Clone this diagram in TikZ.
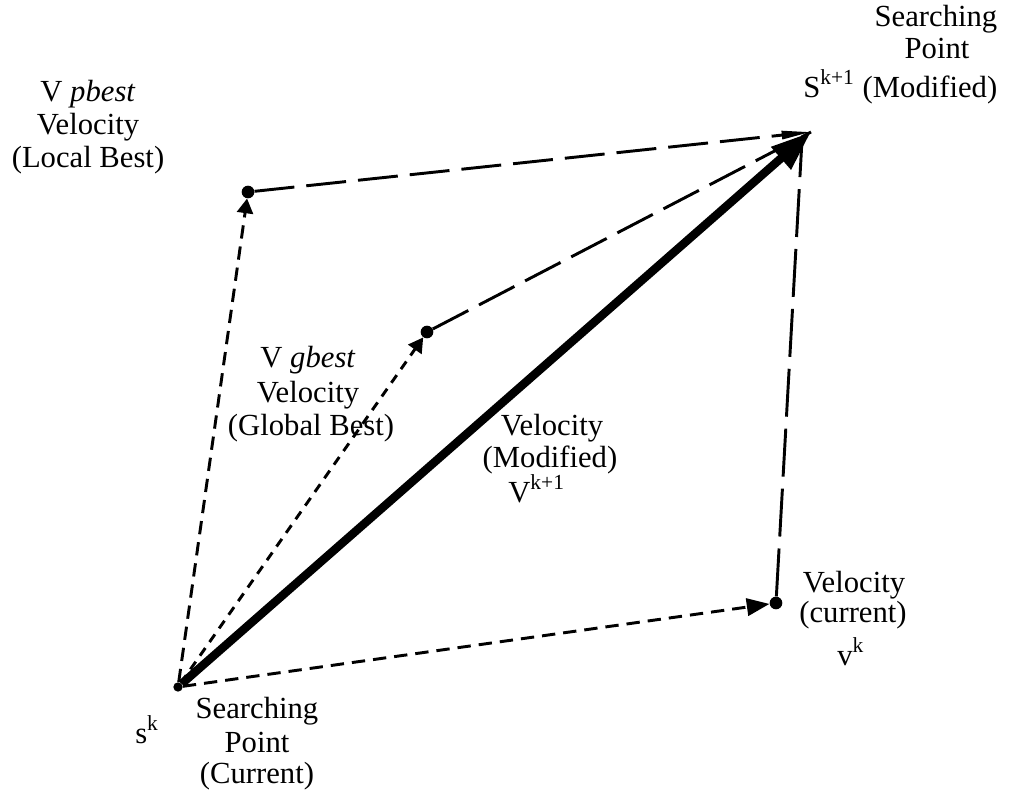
\documentclass[tikz,border=0pt]{standalone}
\usepackage{fontspec}
\setmainfont{Liberation Serif}
\usetikzlibrary{arrows.meta}
\begin{document}
\begin{tikzpicture}[x=0.75pt,y=-0.75pt,
  lbl/.style={inner sep=0pt, anchor=base, font=\fontsize{23}{25}\selectfont},
  lblw/.style={lbl, anchor=base west},
  dot/.style={circle, fill=black, inner sep=0pt, minimum size=9.5pt},
  smalldot/.style={circle, fill=black, inner sep=0pt, minimum size=7pt},
  vec/.style={line width=2.2pt},
  shortdash/.style={vec, dash pattern=on 10pt off 6pt},
  tinydash/.style={vec, dash pattern=on 7pt off 5.5pt},
  longdash/.style={vec, dash pattern=on 30pt off 9pt},
  headsmall/.style={-{Triangle[length=11pt,width=12pt]}},
  headvk/.style={-{Triangle[length=17pt,width=13pt]}},
  headthin/.style={-{Triangle[length=22pt,width=6pt]}},
  headbig/.style={-{Triangle[length=30pt,width=21pt]}}
]
\useasboundingbox (0,0) rectangle (1011,794);

% points
\node[smalldot] (O) at (178,687) {};
\node[dot] (pb) at (248,192) {};
\node[dot] (gb) at (427,332) {};
\node[dot] (vk) at (776,603) {};
\coordinate (S) at (811,132);
\coordinate (S2) at (802,140);

% connectors from current point
\draw[shortdash, headsmall] (O) -- (pb);
\draw[tinydash, headsmall] (O) -- (gb);
\draw[shortdash, headvk] (O) -- (vk);

% connectors to modified point
\draw[longdash, headthin] (pb) -- (S);
\draw[longdash] (gb) -- (S);
\draw[longdash, dash pattern=on 36pt off 9pt] (vk) -- (S2);

% resulting velocity
\draw[line width=6.3pt, headbig] (O) -- (S);

% labels: modified searching point
\node[lbl] (t1) at (936,26) {Searching};
\node[lbl] (t2) at (937,58) {Point};
\node[lbl] (t3) at (930,97) {(Modified)};
\node[lblw] (t4) at (803,97) {S\textsuperscript{k+1}};

% pbest
\node[lbl] (p1) at (88,101) {V \textit{pbest}};
\node[lbl] (p2) at (88,134) {Velocity};
\node[lbl] (p3) at (88,167) {(Local Best)};

% gbest
\node[lbl] (g1) at (308,367) {V \textit{gbest}};
\node[lbl] (g2) at (308,402) {Velocity};
\node[lbl] (g3) at (311,435) {(Global Best)};

% modified velocity
\node[lbl] (m1) at (552,435) {Velocity};
\node[lbl] (m2) at (550,467) {(Modified)};
\node[lblw] (m3) at (508,502) {V\textsuperscript{k+1}};

% current velocity
\node[lbl] (c1) at (854,592) {Velocity};
\node[lbl] (c2) at (853,622) {(current)};
\node[lblw] (c3) at (837,665) {v\textsuperscript{k}};

% current searching point
\node[lbl] (o1) at (257,718) {Searching};
\node[lbl] (o2) at (257,752) {Point};
\node[lbl] (o3) at (257,783) {(Current)};
\node[lblw] (o4) at (135,743) {s\textsuperscript{k}};
\end{tikzpicture}
\end{document}
